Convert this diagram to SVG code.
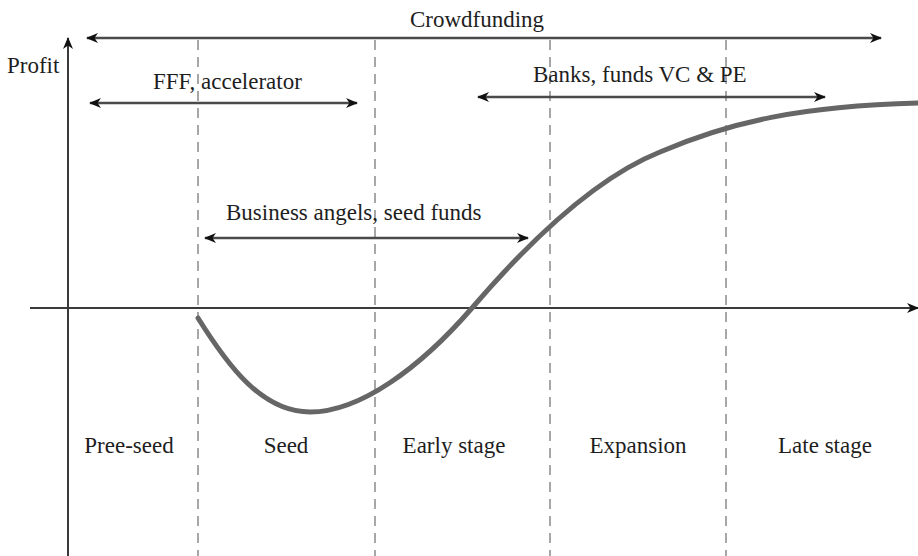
<svg xmlns="http://www.w3.org/2000/svg" width="918" height="556" viewBox="0 0 918 556">
  <style>
    .lbl { font-family: "Liberation Serif", "Times New Roman", serif; font-size: 23px; fill: #1e1e1e; }
    .mid { text-anchor: middle; }
    .axis { stroke: #3a3a3a; stroke-width: 2; fill: none; }
    .span { stroke: #4a4a4a; stroke-width: 2.5; fill: none; }
    .stage { stroke: #8a8a8a; stroke-width: 1.5; stroke-dasharray: 10 7; fill: none; }
    .curve { stroke: #666; stroke-width: 5; fill: none; stroke-linecap: round; }
  </style>
  <defs>
    <marker id="head" viewBox="0 0 12 10" refX="11" refY="5" markerWidth="12" markerHeight="10" markerUnits="userSpaceOnUse" orient="auto-start-reverse">
      <path d="M0,0 L12,5 L0,10 L3.5,5 z" fill="#111"/>
    </marker>
  </defs>

  <rect width="918" height="556" fill="#fff"/>

  <!-- stage boundaries -->
  <g id="boundaries">
    <line class="stage" x1="198" y1="40" x2="198" y2="556"/>
    <line class="stage" x1="375" y1="40" x2="375" y2="556"/>
    <line class="stage" x1="550" y1="40" x2="550" y2="556"/>
    <line class="stage" x1="726" y1="40" x2="726" y2="556"/>
  </g>

  <!-- axes -->
  <g id="axes">
    <line class="axis" x1="68" y1="556" x2="68" y2="38" marker-end="url(#head)"/>
    <line class="axis" x1="30" y1="308" x2="918" y2="308" marker-end="url(#head)"/>
  </g>

  <!-- funding spans and profit curve -->
  <g id="connectors">
    <line class="span" x1="87" y1="38" x2="881" y2="38" marker-start="url(#head)" marker-end="url(#head)"/>
    <line class="span" x1="90" y1="103" x2="357" y2="103" marker-start="url(#head)" marker-end="url(#head)"/>
    <line class="span" x1="478" y1="97" x2="825" y2="97" marker-start="url(#head)" marker-end="url(#head)"/>
    <line class="span" x1="205" y1="238" x2="528" y2="238" marker-start="url(#head)" marker-end="url(#head)"/>
    <path class="curve" d="M198,318 C228,366 262,412 310,412 C360,412 420,368 472,308 C520,252 590,180 660,152 C730,122 800,106 920,103"/>
  </g>

  <g id="profit-label"><text class="lbl" x="7" y="73">Profit</text></g>
  <g id="crowdfunding"><text class="lbl mid" x="477" y="27">Crowdfunding</text></g>
  <g id="fff-accelerator"><text class="lbl" x="153" y="89">FFF, accelerator</text></g>
  <g id="banks-funds"><text class="lbl" x="533" y="82">Banks, funds VC &amp; PE</text></g>
  <g id="business-angels"><text class="lbl" x="226" y="220">Business angels, seed funds</text></g>

  <g id="stage-pree-seed"><text class="lbl mid" x="129" y="453">Pree-seed</text></g>
  <g id="stage-seed"><text class="lbl mid" x="286" y="453">Seed</text></g>
  <g id="stage-early"><text class="lbl mid" x="454" y="453">Early stage</text></g>
  <g id="stage-expansion"><text class="lbl mid" x="638" y="453">Expansion</text></g>
  <g id="stage-late"><text class="lbl mid" x="825" y="453">Late stage</text></g>
</svg>
